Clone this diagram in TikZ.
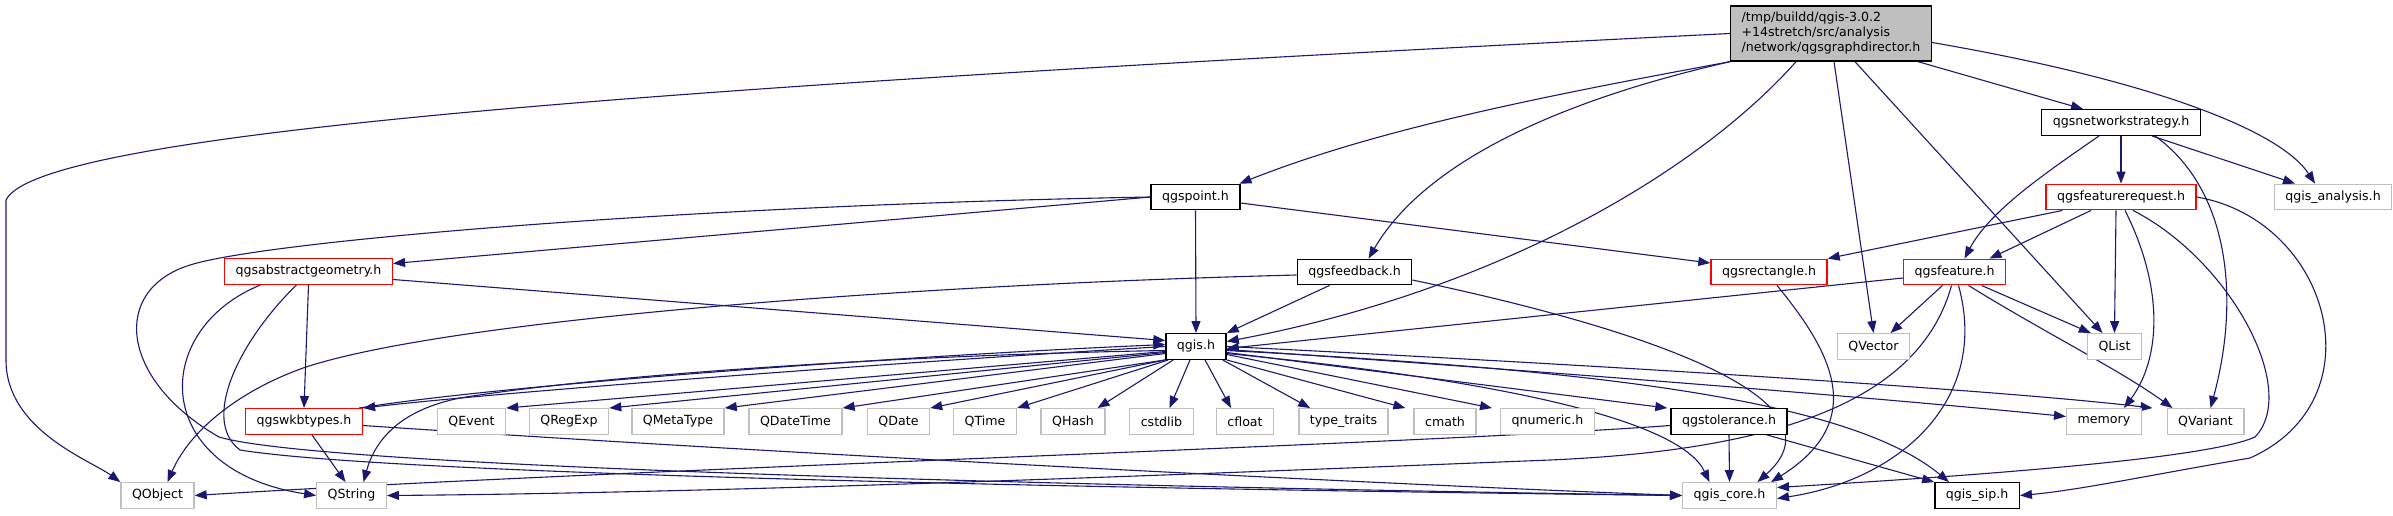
\documentclass[tikz,border=0pt]{standalone}
\usepackage{fontspec}
\newfontfamily\depfont{DejaVu Sans}
\usepackage{xcolor}
\definecolor{depedge}{HTML}{191970}
\definecolor{deptrunc}{HTML}{FF0000}
\definecolor{depext}{HTML}{BFBFBF}
\definecolor{depmainbg}{HTML}{BFBFBF}
\usepackage{tikz}
\usetikzlibrary{arrows.meta,backgrounds}
\tikzset{
  depnode/.style={draw=black,line width=1.4pt,fill=white,inner xsep=11pt,inner ysep=0pt,minimum height=25.5pt,font=\depfont\fontsize{12.6}{15}\selectfont},
  depmain/.style={depnode,fill=depmainbg,align=left,minimum height=55pt},
  deptrunc/.style={depnode,draw=deptrunc},
  depext/.style={depnode,draw=depext},
  depflow/.style={-{Triangle[length=12pt,width=9pt]},draw=depedge,line width=1.1pt},
}

\begin{document}
\begin{tikzpicture}[x=1pt,y=-1pt]
\useasboundingbox (0,0) rectangle (2393,515);
% headers
\node[depmain] (main) at (1831,33.5) {/tmp/buildd/qgis-3.0.2\\+14stretch/src/analysis\\/network/qgsgraphdirector.h};
\node[depnode] (netstrat) at (2121,122.5) {qgsnetworkstrategy.h};
\node[depext] (analysis) at (2333,197) {qgis\_analysis.h};
\node[deptrunc] (featreq) at (2121,197) {qgsfeaturerequest.h};
\node[depnode] (point) at (1195.5,197) {qgspoint.h};
\node[deptrunc] (absgeom) at (308.5,271.5) {qgsabstractgeometry.h};
\node[depnode] (feedback) at (1354.5,272) {qgsfeedback.h};
\node[deptrunc] (rect) at (1769,272) {qgsrectangle.h};
\node[deptrunc] (feature) at (1954.5,272) {qgsfeature.h};
\node[depnode] (qgis) at (1196,346.5) {qgis.h};
\node[depext] (qvector) at (1873.5,346.5) {QVector};
\node[depext] (qlist) at (2114.5,346.5) {QList};
% row of leaves under qgis.h
\node[deptrunc] (wkb) at (304,421.5) {qgswkbtypes.h};
\node[depext] (qevent) at (471.5,421.5) {QEvent};
\node[depext] (qregexp) at (569,421.5) {QRegExp};
\node[depext] (qmetatype) at (678,421.5) {QMetaType};
\node[depext] (qdatetime) at (795.5,421.5) {QDateTime};
\node[depext] (qdate) at (898.5,421.5) {QDate};
\node[depext] (qtime) at (985,421.5) {QTime};
\node[depext] (qhash) at (1073,421.5) {QHash};
\node[depext] (cstdlib) at (1161.5,421.5) {cstdlib};
\node[depext] (cfloat) at (1245,421.5) {cfloat};
\node[depext] (typetraits) at (1343.5,421.5) {type\_traits};
\node[depext] (cmath) at (1445,421.5) {cmath};
\node[depext] (qnumeric) at (1547.5,421.5) {qnumeric.h};
\node[depnode] (tolerance) at (1729,421.5) {qgstolerance.h};
\node[depext] (memory) at (2104,421.5) {memory};
\node[depext] (qvariant) at (2205.5,421.5) {QVariant};
% bottom row
\node[depext] (qobject) at (157.5,495.5) {QObject};
\node[depext] (qstring) at (351.5,495.5) {QString};
\node[depext] (core) at (1729.5,495.5) {qgis\_core.h};
\node[depnode] (sip) at (1977,495.5) {qgis\_sip.h};

\begin{scope}[on background layer]
% main header
\draw[depflow] (main.west) .. controls (700,85) and (40,130) .. (6,200) -- (6,360) .. controls (6,430) and (90,460) .. (qobject.north west);
\draw[depflow] (main.south west) .. controls (1550,95) and (1380,128) .. ([xshift=-1pt]point.north east);
\draw[depflow] (main.south west) .. controls (1540,105) and (1420,170) .. ([xshift=14pt]feedback.north);
\draw[depflow] ([xshift=-35pt]main.south) .. controls (1700,170) and (1500,290) .. ([yshift=5pt]qgis.east);
\draw[depflow] ([xshift=3pt]main.south) -- (qvector.north);
\draw[depflow] ([xshift=24pt]main.south) -- ([xshift=-12pt]qlist.north);
\draw[depflow] ([xshift=-14pt]main.south east) -- ([xshift=-38pt]netstrat.north);
\draw[depflow] ([yshift=-9pt]main.east) .. controls (2150,80) and (2280,130) .. ([xshift=-18pt]analysis.north);
% network strategy
\draw[depflow] (netstrat) -- (featreq);
\draw[depflow] ([xshift=31pt]netstrat.south) -- ([xshift=-38pt]analysis.north);
\draw[depflow] ([xshift=-22pt]netstrat.south) .. controls (2050,170) and (1990,210) .. ([xshift=10pt]feature.north);
\draw[depflow] ([xshift=34pt]netstrat.south) .. controls (2230,190) and (2240,300) .. ([xshift=5pt]qvariant.north);
% feature request
\draw[depflow] ([xshift=17pt]featreq.south west) -- (rect.north east);
\draw[depflow] ([xshift=-30pt]featreq.south) -- ([xshift=35pt]feature.north);
\draw[depflow] ([xshift=-5pt]featreq.south) -- (qlist.north);
\draw[depflow] ([xshift=4pt]featreq.south) .. controls (2165,290) and (2160,360) .. ([xshift=20pt]memory.north);
\draw[depflow] ([xshift=12pt]featreq.south) .. controls (2230,260) and (2300,390) .. (2255,437) .. controls (2200,462) and (1900,480) .. ([yshift=8pt]core.east);
\draw[depflow] (featreq.east) .. controls (2330,220) and (2380,400) .. (2250,458) .. controls (2150,475) and (2080,490) .. (sip.east);
% qgspoint
\draw[depflow] (point.west) -- ([yshift=8pt]absgeom.east);
\draw[depflow] (point.south) -- (qgis.north);
\draw[depflow] ([yshift=-6pt]point.east) -- ([yshift=9pt]rect.west);
\draw[depflow] (point.west) .. controls (700,205) and (270,240) .. (190,265) .. controls (110,290) and (120,380) .. (219,437) .. controls (330,470) and (1200,488) .. (core.west);
% abstract geometry
\draw[depflow] ([yshift=-8pt]absgeom.east) -- ([yshift=6pt]qgis.west);
\draw[depflow] (absgeom.south) -- (wkb.north);
\draw[depflow] ([xshift=-48pt]absgeom.south) .. controls (150,330) and (150,470) .. (qstring.west);
\draw[depflow] ([xshift=-12pt]absgeom.south) .. controls (240,340) and (200,420) .. (240,450) .. controls (400,476) and (1200,490) .. (core.west);
% feedback
\draw[depflow] ([xshift=-25pt]feedback.south) -- (qgis.north east);
\draw[depflow] ([yshift=-3pt]feedback.west) .. controls (900,285) and (450,320) .. (306,367) .. controls (240,390) and (190,430) .. ([xshift=10pt]qobject.north);
\draw[depflow] ([yshift=-8pt]feedback.east) .. controls (1650,330) and (1850,400) .. ([xshift=28pt]core.north);
% rectangle
\draw[depflow] ([xshift=8pt]rect.south) .. controls (1830,350) and (1870,420) .. ([xshift=-6pt]core.north east);
% feature
\draw[depflow] ([yshift=-6pt]feature.west) -- ([yshift=-2pt]qgis.east);
\draw[depflow] ([xshift=-12pt]feature.south) -- ([xshift=17pt]qvector.north);
\draw[depflow] ([xshift=27pt]feature.south) -- ([xshift=4pt]qlist.north west);
\draw[depflow] ([xshift=14pt]feature.south) .. controls (2040,330) and (2120,370) .. ([xshift=-33pt]qvariant.north);
\draw[depflow] ([xshift=4pt]feature.south) .. controls (1990,400) and (1900,480) .. ([yshift=-3pt]core.east);
\draw[depflow] ([xshift=-3pt]feature.south) .. controls (1920,400) and (1780,450) .. (1550,460) .. controls (1100,478) and (700,493) .. (qstring.east);
% qgis.h
\draw[depflow] (qgis.west) .. controls (900,362) and (500,392) .. (wkb.north east);
\draw[depflow] ([xshift=-4pt]wkb.north east) .. controls (500,385) and (900,356) .. ([yshift=2pt]qgis.west);
\draw[depflow] ([yshift=-4pt]qgis.west) .. controls (900,355) and (600,375) .. (460,398) .. controls (400,410) and (375,440) .. ([xshift=12pt]qstring.north);
\draw[depflow] ([yshift=-5pt]qgis.west) -- (qevent.north east);
\draw[depflow] ([yshift=-6pt]qgis.west) -- (qregexp.north east);
\draw[depflow] ([yshift=-7pt]qgis.west) -- (qmetatype.north east);
\draw[depflow] (qgis.south west) -- (qdatetime.north east);
\draw[depflow] (qgis.south west) -- (qdate.north east);
\draw[depflow] ([xshift=3pt]qgis.south west) -- (qtime.north east);
\draw[depflow] ([xshift=8pt]qgis.south west) -- ([xshift=-8pt]qhash.north east);
\draw[depflow] ([xshift=-6pt]qgis.south) -- ([xshift=8pt]cstdlib.north);
\draw[depflow] ([xshift=9pt]qgis.south) -- ([xshift=-14pt]cfloat.north);
\draw[depflow] ([xshift=-4pt]qgis.south east) -- ([xshift=12pt]typetraits.north west);
\draw[depflow] (qgis.south east) -- ([xshift=-8pt]cmath.north west);
\draw[depflow] ([yshift=-8pt]qgis.east) -- ([xshift=-8pt]qnumeric.north west);
\draw[depflow] ([yshift=-6pt]qgis.east) -- ([xshift=-3pt]tolerance.north west);
\draw[depflow] ([yshift=-3pt]qgis.east) .. controls (1600,375) and (1900,400) .. ([yshift=5pt]memory.west);
\draw[depflow] (qgis.east) .. controls (1600,365) and (2000,390) .. ([xshift=-14pt]qvariant.north west);
\draw[depflow] ([yshift=-7pt]qgis.east) .. controls (1500,380) and (1680,420) .. ([xshift=-20pt]core.north);
\draw[depflow] ([yshift=-4pt]qgis.east) .. controls (1600,370) and (1850,400) .. ([xshift=-28pt]sip.north);
% tolerance and wkbtypes
\draw[depflow] ([yshift=-4pt]tolerance.west) .. controls (1400,445) and (600,470) .. (qobject.east);
\draw[depflow] (tolerance.south) -- (core.north);
\draw[depflow] ([xshift=38pt]tolerance.south) -- (sip.north west);
\draw[depflow] ([xshift=8pt]wkb.south) -- ([xshift=-6pt]qstring.north);
\draw[depflow] ([yshift=-4pt]wkb.east) .. controls (800,455) and (1400,485) .. (core.west);
\end{scope}
\end{tikzpicture}
\end{document}
